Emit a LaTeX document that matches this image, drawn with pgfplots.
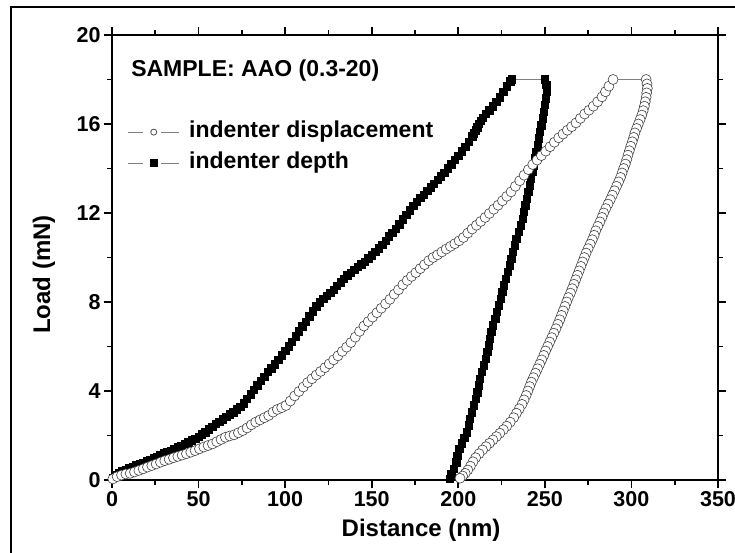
\documentclass[border=0pt]{standalone}
\usepackage{fontspec}
\setmainfont{Liberation Sans}
\usepackage{pgfplots}
\pgfplotsset{compat=1.18}

\begin{document}
\begin{tikzpicture}
% page = 735 x 553 px, 1 px = 1 pt, axis box south west at (0,0)
\useasboundingbox (-112pt,-73pt) rectangle (623pt,480pt);
\begin{axis}[
  at={(0pt,0pt)}, anchor=south west,
  scale only axis,
  width=606pt, height=445pt,
  xmin=0, xmax=350, ymin=0, ymax=20,
  xtick={0,50,...,350}, ytick={0,4,...,20},
  minor x tick num=1, minor y tick num=1,
  tick align=outside,
  major tick length=8pt, minor tick length=5pt,
  every tick/.style={black, line width=1.6pt},
  axis line style={line width=2pt},
  clip=false,
  /pgf/number format/assume math mode=true,
  tick label style={font=\bfseries\fontsize{21.5}{21.5}\selectfont},
  xlabel={Distance (nm)},
  ylabel={Load (mN)},
  label style={font=\bfseries\fontsize{24}{24}\selectfont},
  xlabel style={at={(axis description cs:0.51,-0.128)}, anchor=base},
  ylabel style={at={(axis description cs:-0.102,0.462)}, anchor=base},
  legend style={draw=none, fill=none,
    at={(axis description cs:0.025,0.808)}, anchor=north west,
    inner sep=0pt, row sep=8pt,
    nodes={inner sep=0pt, text height=17pt, text depth=6pt, anchor=west},
    font=\bfseries\fontsize{23}{23}\selectfont,
    /tikz/every odd column/.append style={column sep=10pt}},
]
\addlegendimage{legend image code/.code={
  \draw[gray, line width=0.8pt] (0pt,0pt)--(15pt,0pt) (33pt,0pt)--(51pt,0pt);
  \draw[black!70, line width=0.8pt, fill=white] (26pt,0pt) circle (3pt);}}
\addlegendentry{indenter displacement}
\addlegendimage{legend image code/.code={
  \draw[gray, line width=0.8pt] (0pt,0pt)--(15pt,0pt) (33pt,0pt)--(51pt,0pt);
  \fill[black] (22.5pt,-3.5pt) rectangle (29.5pt,3.5pt);}}
\addlegendentry{indenter depth}

% indenter depth (loading, hold, unloading)
\addplot[forget plot, draw=gray, line width=0.6pt, mark=square*, mark size=3.7pt,
  mark options={fill=black, draw=black}] table[row sep=\\] {
x y\\
0.4 0.10\\ 2 0.22\\ 4 0.33\\ 6 0.40\\ 8 0.47\\ 10 0.53\\ 12 0.60\\ 14 0.66\\
16 0.72\\ 18 0.78\\ 20 0.85\\ 22 0.90\\ 24 0.97\\ 26 1.05\\ 28 1.12\\ 30 1.20\\
32 1.26\\ 34 1.32\\ 36 1.40\\ 38 1.47\\ 40 1.55\\ 42 1.62\\ 44 1.70\\ 46 1.78\\
48 1.85\\ 50 1.95\\ 52 2.05\\ 54 2.15\\ 56 2.27\\ 58 2.40\\ 60 2.52\\ 62 2.62\\
64 2.72\\ 66 2.84\\ 68 2.95\\ 70 3.05\\ 72 3.17\\ 74 3.28\\ 76 3.45\\ 78 3.65\\
80 3.85\\ 82 4.05\\ 84 4.25\\ 86 4.45\\ 88 4.65\\ 90 4.85\\ 92 5.02\\ 94 5.20\\
96 5.40\\ 98 5.60\\ 100 5.80\\ 102 6.00\\ 104 6.22\\ 106 6.45\\ 108 6.68\\ 110 6.90\\
112 7.12\\ 114 7.35\\ 116 7.58\\ 118 7.80\\ 120 7.98\\ 122 8.15\\ 124 8.28\\ 126 8.40\\
128 8.55\\ 130 8.72\\ 132 8.88\\ 134 9.05\\ 136 9.20\\ 138 9.32\\ 140 9.45\\ 142 9.58\\
144 9.70\\ 146 9.82\\ 148 9.96\\ 150 10.10\\ 152 10.26\\ 154 10.42\\ 156 10.58\\ 158 10.76\\
160 10.95\\ 162 11.12\\ 164 11.30\\ 166 11.50\\ 168 11.72\\ 170 11.92\\ 172 12.12\\ 174 12.32\\
176 12.50\\ 178 12.67\\ 180 12.83\\ 182 13.00\\ 184 13.15\\ 186 13.30\\ 188 13.48\\ 190 13.65\\
192 13.82\\ 194 14.00\\ 196 14.18\\ 198 14.38\\ 200 14.58\\ 202 14.78\\ 204 14.98\\ 206 15.20\\
208 15.45\\ 209 15.58\\ 210 15.72\\ 211 15.86\\ 212 16.00\\ 213 16.14\\ 214 16.28\\ 216 16.45\\
218 16.62\\ 220 16.80\\ 222 17.00\\ 224 17.20\\ 226 17.45\\ 228 17.70\\ 230 17.92\\ 231 18.00\\
250.0 18.00\\ 250.8 17.75\\ 251.0 17.45\\ 250.6 17.15\\ 250.0 16.85\\ 249.4 16.55\\ 248.7 16.25\\
248.0 15.95\\ 247.2 15.65\\ 246.5 15.35\\ 245.8 15.05\\ 245.0 14.75\\ 244.3 14.45\\ 243.5 14.15\\
242.8 13.85\\ 242.0 13.55\\ 241.2 13.25\\ 240.4 12.95\\ 239.5 12.65\\ 238.6 12.35\\ 238.0 12.05\\
237.2 11.75\\ 236.0 11.45\\ 234.8 11.15\\ 233.5 10.85\\ 232.6 10.55\\ 231.5 10.25\\ 230.6 9.95\\
229.7 9.65\\ 228.5 9.35\\ 227.5 9.05\\ 226.4 8.75\\ 225.5 8.45\\ 224.6 8.15\\ 223.5 7.85\\
222.4 7.55\\ 221.3 7.25\\ 220.0 6.95\\ 219.0 6.65\\ 218.3 6.35\\ 217.5 6.05\\ 216.8 5.75\\
215.8 5.45\\ 214.8 5.15\\ 213.6 4.85\\ 212.5 4.55\\ 211.8 4.25\\ 211.0 3.95\\ 210.2 3.65\\
209.0 3.35\\ 207.8 3.05\\ 206.8 2.75\\ 206.0 2.45\\ 204.8 2.15\\ 203.5 1.90\\ 202.0 1.65\\
200.5 1.40\\ 199.5 1.10\\ 198.8 0.80\\ 197.5 0.50\\ 196.0 0.25\\ 195.2 0.05\\
};

% indenter displacement (loading, hold, unloading)
\addplot[forget plot, draw=gray, line width=0.6pt, mark=*, mark size=5pt,
  mark options={fill=white, draw=black!75, line width=0.6pt}] table[row sep=\\] {
x y\\
0.5 0.05\\ 3 0.15\\ 5.5 0.22\\ 8 0.27\\ 10.5 0.30\\ 13 0.36\\ 15.5 0.43\\ 18 0.50\\
20.5 0.58\\ 23 0.65\\ 25.5 0.72\\ 28 0.80\\ 30.5 0.87\\ 33 0.93\\ 35.5 1.00\\ 38 1.06\\
40.5 1.12\\ 43 1.18\\ 45.5 1.25\\ 48 1.32\\ 50.5 1.40\\ 53 1.48\\ 55.5 1.55\\ 58 1.62\\
60.5 1.72\\ 63 1.82\\ 65.5 1.92\\ 68 1.98\\ 70.5 2.03\\ 73 2.12\\ 75.5 2.22\\ 78 2.34\\
80.5 2.48\\ 83 2.60\\ 85.5 2.70\\ 88 2.80\\ 90.5 2.90\\ 93 3.05\\ 95.5 3.17\\ 98 3.25\\
100.5 3.35\\ 103 3.55\\ 105.5 3.78\\ 108 3.98\\ 110.5 4.18\\ 113 4.38\\ 115.5 4.55\\ 118 4.72\\
120.5 4.88\\ 123 5.05\\ 125.5 5.22\\ 128 5.40\\ 130.5 5.58\\ 133 5.78\\ 135.5 5.97\\ 138 6.18\\
140.5 6.42\\ 143 6.68\\ 145.5 6.92\\ 148 7.12\\ 150.5 7.32\\ 153 7.52\\ 155.5 7.72\\ 158 7.92\\
160.5 8.12\\ 163 8.35\\ 165.5 8.55\\ 168 8.78\\ 170.5 8.97\\ 173 9.15\\ 175.5 9.32\\ 178 9.50\\
180.5 9.68\\ 183 9.86\\ 185.5 10.00\\ 188 10.12\\ 190.5 10.25\\ 193 10.38\\ 195.5 10.50\\ 198 10.62\\
200.5 10.75\\ 203 10.90\\ 205.5 11.10\\ 208 11.28\\ 210.5 11.45\\ 213 11.62\\ 215.5 11.80\\ 218 11.98\\
220.5 12.17\\ 223 12.35\\ 225.5 12.55\\ 228 12.75\\ 230.5 12.95\\ 233 13.20\\ 235.5 13.45\\ 238 13.70\\
240.5 13.95\\ 243 14.18\\ 245.5 14.38\\ 248 14.58\\ 250.5 14.78\\ 253 14.98\\ 255.5 15.18\\ 258 15.38\\
260.5 15.55\\ 263 15.72\\ 265.5 15.88\\ 268 16.05\\ 270.5 16.25\\ 273 16.45\\ 275.5 16.62\\ 278 16.80\\
280.5 17.00\\ 283 17.22\\ 285 17.45\\ 287 17.70\\ 289.4 18.00\\
308.5 18.00\\ 309.0 17.80\\ 309.2 17.60\\ 308.8 17.40\\ 308.5 17.20\\ 308.0 17.00\\ 307.5 16.80\\
306.8 16.60\\ 306.0 16.40\\ 305.0 16.20\\ 304.0 16.00\\ 303.0 15.80\\ 302.0 15.60\\ 301.3 15.40\\
300.5 15.20\\ 299.6 15.00\\ 298.8 14.80\\ 298.0 14.60\\ 297.3 14.40\\ 296.5 14.20\\ 295.5 14.00\\
294.6 13.80\\ 293.7 13.60\\ 292.6 13.40\\ 291.4 13.20\\ 290.2 13.00\\ 289.0 12.80\\ 287.8 12.60\\
286.5 12.40\\ 285.2 12.20\\ 284.0 12.00\\ 283.0 11.80\\ 281.8 11.60\\ 280.6 11.40\\ 279.4 11.20\\
278.5 11.00\\ 277.4 10.80\\ 276.2 10.60\\ 275.0 10.40\\ 273.8 10.20\\ 272.8 10.00\\ 271.8 9.80\\
270.8 9.60\\ 269.8 9.40\\ 268.8 9.20\\ 267.8 9.00\\ 266.8 8.80\\ 265.8 8.60\\ 264.8 8.40\\
263.6 8.20\\ 262.6 8.00\\ 261.6 7.80\\ 260.6 7.60\\ 259.6 7.40\\ 258.6 7.20\\ 257.5 7.00\\
256.4 6.80\\ 255.2 6.60\\ 254.0 6.40\\ 252.8 6.20\\ 251.6 6.00\\ 250.4 5.80\\ 249.4 5.60\\
248.2 5.40\\ 247.0 5.20\\ 245.8 5.00\\ 244.6 4.80\\ 243.4 4.60\\ 242.2 4.40\\ 241.2 4.20\\
240.2 4.00\\ 239.2 3.80\\ 238.0 3.60\\ 236.8 3.40\\ 235.2 3.20\\ 233.6 3.00\\ 232.0 2.80\\
230.0 2.60\\ 228.0 2.42\\ 226.0 2.26\\ 224.0 2.10\\ 222.0 1.95\\ 220.0 1.80\\ 218.0 1.65\\
216.0 1.50\\ 214.0 1.35\\ 212.0 1.18\\ 210.0 1.00\\ 208.5 0.82\\ 207.0 0.62\\ 205.5 0.45\\
204.0 0.30\\ 202.5 0.18\\ 201.0 0.08\\
};

\node[anchor=base west, font=\bfseries\fontsize{23}{23}\selectfont]
  at (axis description cs:0.026,0.906) {SAMPLE: AAO (0.3-20)};
\end{axis}
% outer frame of the figure, running off the right and bottom edges
\draw[black, line width=2pt] (-101pt,-90pt) -- (-101pt,473pt) -- (640pt,473pt);
\end{tikzpicture}
\end{document}
